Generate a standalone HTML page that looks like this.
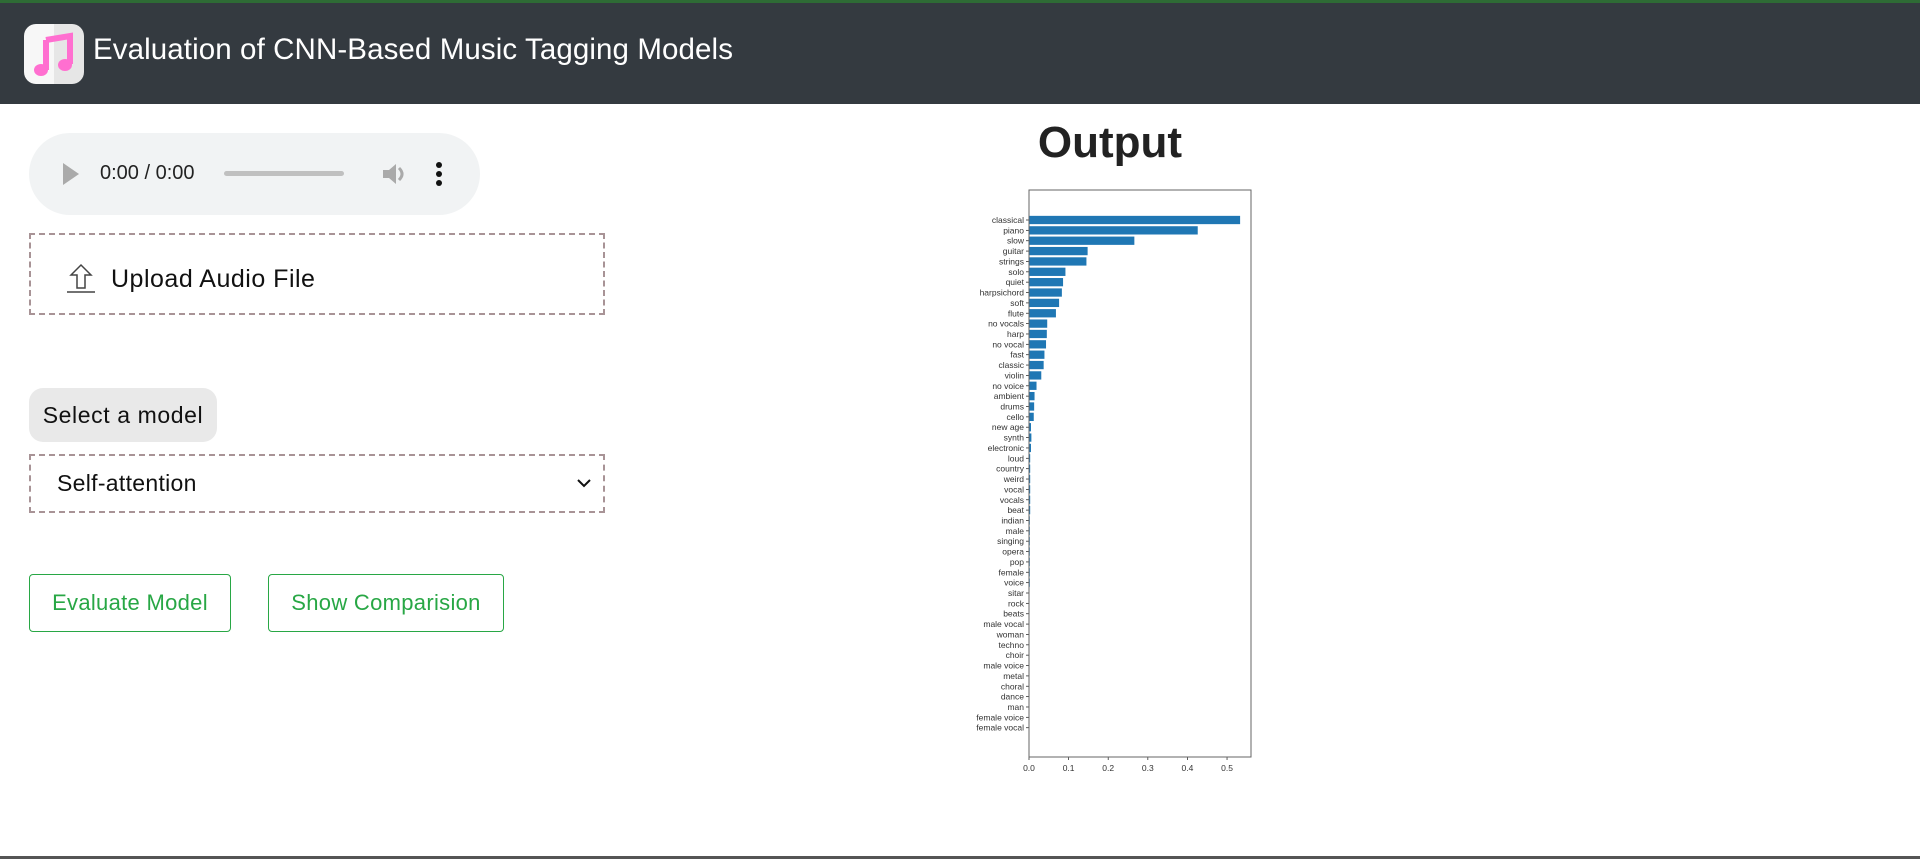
<!DOCTYPE html>
<html><head><meta charset="utf-8">
<style>
*{box-sizing:border-box;margin:0;padding:0}
body{width:1920px;height:859px;overflow:hidden;background:#fff;font-family:"Liberation Sans",sans-serif;position:relative}
.abs{position:absolute}
#topline{left:0;top:0;width:1920px;height:3px;background:#2e6b35}
#header{left:0;top:3px;width:1920px;height:101px;background:#343a40}
#icon{left:24px;top:24px;width:60px;height:60px;border-radius:12px;background:linear-gradient(90deg,#f7f7f7 50%,#e6e6e6 50%)}
#title{left:93px;top:33px;color:#fff;font-size:29.5px;white-space:nowrap;letter-spacing:0.1px}
#audio{left:29px;top:133px;width:451px;height:82px;border-radius:41px;background:#f1f3f4}
#upload{left:29px;top:233px;width:576px;height:82px;border:2px dashed #a89396}
#label{left:29px;top:388px;width:188px;height:54px;border-radius:14px;background:#e9e9e9;font-size:23px;line-height:54px;text-align:center;color:#111;letter-spacing:0.6px}
#select{left:29px;top:454px;width:576px;height:59px;border:2px dashed #a89396;font-size:23px;line-height:55px;padding-left:26px;color:#111;letter-spacing:0.3px}
.btn{top:574px;height:58px;border:1px solid #28a745;border-radius:4px;color:#28a745;font-size:22px;line-height:56px;text-align:center;background:#fff;letter-spacing:0.3px}
#out{left:1010px;top:118px;width:200px;text-align:center;font-size:44px;font-weight:bold;color:#222}
#bottomline{left:0;top:856px;width:1920px;height:3px;background:#555}
</style></head><body>
<div class="abs" id="topline"></div>
<div class="abs" id="header"></div>
<div class="abs" id="icon">
<svg width="60" height="60" viewBox="0 0 60 60"><path d="M22 16 L46 12 L46 40" stroke="#ff6fd0" stroke-width="6" fill="none"/><path d="M22 16 L22 46" stroke="#ff6fd0" stroke-width="6"/><ellipse cx="17" cy="46" rx="7" ry="6" fill="#ff6fd0"/><ellipse cx="41" cy="41" rx="7" ry="6" fill="#ff6fd0"/></svg></div>
<div class="abs" id="title">Evaluation of CNN-Based Music Tagging Models</div>

<div class="abs" id="audio">
<svg class="abs" style="left:34px;top:30px" width="16" height="22"><polygon points="0,0 16,11 0,22" fill="#aaa"/></svg>
<div class="abs" style="left:71px;top:29px;font-size:20px;color:#222">0:00 / 0:00</div>
<div class="abs" style="left:195px;top:38px;width:120px;height:5px;border-radius:3px;background:#c0c0c0"></div>
<svg class="abs" style="left:352px;top:29px" width="26" height="24"><polygon points="2,8 8,8 15,2 15,22 8,16 2,16" fill="#aaa"/><path d="M18 6 Q24 12 18 18" stroke="#aaa" stroke-width="3" fill="none"/></svg>
<svg class="abs" style="left:406px;top:29px" width="8" height="24"><circle cx="4" cy="3" r="3" fill="#111"/><circle cx="4" cy="12" r="3" fill="#111"/><circle cx="4" cy="21" r="3" fill="#111"/></svg>
</div>

<div class="abs" id="upload">
<svg class="abs" style="left:34px;top:28px" width="32" height="30"><path d="M6 12 L16 2 L26 12 L20 12 L20 25 L12 25 L12 12 Z" stroke="#444" stroke-width="1.5" fill="none"/><line x1="2" y1="29" x2="30" y2="29" stroke="#444" stroke-width="1.5"/></svg>
<div class="abs" style="left:80px;top:30px;font-size:25px;color:#111;letter-spacing:0.5px">Upload Audio File</div>
</div>

<div class="abs" id="label">Select a model</div>
<div class="abs" id="select">Self-attention
<svg class="abs" style="left:546px;top:23px" width="14" height="9"><path d="M1 1 L7 7 L13 1" stroke="#111" stroke-width="2" fill="none"/></svg></div>

<div class="abs btn" style="left:29px;width:202px">Evaluate Model</div>
<div class="abs btn" style="left:268px;width:236px">Show Comparision</div>

<div class="abs" id="out">Output</div>

<svg class="abs" style="left:0;top:0" width="1920" height="859" id="chart"></svg>
<div class="abs" id="bottomline"></div>

<script>
const categories=["classical","piano","slow","guitar","strings","solo","quiet","harpsichord","soft","flute","no vocals","harp","no vocal","fast","classic","violin","no voice","ambient","drums","cello","new age","synth","electronic","loud","country","weird","vocal","vocals","beat","indian","male","singing","opera","pop","female","voice","sitar","rock","beats","male vocal","woman","techno","choir","male voice","metal","choral","dance","man","female voice","female vocal"];
const values=[0.533,0.426,0.266,0.148,0.145,0.092,0.086,0.083,0.076,0.068,0.046,0.045,0.043,0.039,0.037,0.031,0.019,0.014,0.013,0.012,0.005,0.006,0.005,0.003,0.003,0.003,0.003,0.003,0.003,0.002,0.002,0.002,0.002,0.002,0.002,0.002,0.001,0.0008,0.0007,0.0006,0.0005,0.0005,0.0005,0.0004,0.0004,0.0004,0.0003,0.0003,0.0003,0.0003];
const xTicks=[0,0.1,0.2,0.3,0.4,0.5];
const xTickLabels=["0.0","0.1","0.2","0.3","0.4","0.5"];

const NS="http://www.w3.org/2000/svg";
const svg=document.getElementById('chart');
const L=1029,R=1251,T=190,B=757;
const xMax=0.5605;
const n=categories.length;
const step=(727.7-220)/(n-1);
function xs(v){return L+v/xMax*(R-L);}
function ys(i){return 220+i*step;}
function mk(tag,attrs){const e=document.createElementNS(NS,tag);for(const k in attrs)e.setAttribute(k,attrs[k]);svg.appendChild(e);return e;}
for(let i=0;i<n;i++){
  const h=step*0.8;
  const b=mk('rect',{x:xs(0),y:ys(i)-h/2,width:Math.max(0,xs(values[i])-xs(0)),height:h,fill:'#1f77b4'});
  
  
  const t=mk('line',{x1:L-3,x2:L,y1:ys(i),y2:ys(i),stroke:'#333','stroke-width':0.8});
  const tx=mk('text',{x:L-5,y:ys(i)+3,'text-anchor':'end','font-size':8.5,fill:'#333','font-family':'Liberation Sans, sans-serif'});
  tx.textContent=categories[i];
  
  
}
for(let j=0;j<xTicks.length;j++){
  const x=xs(xTicks[j]);
  mk('line',{x1:x,x2:x,y1:B,y2:B+3,stroke:'#333','stroke-width':0.8});
  const tx=mk('text',{x:x,y:B+14,'text-anchor':'middle','font-size':8.5,fill:'#333','font-family':'Liberation Sans, sans-serif'});
  tx.textContent=xTickLabels[j];
  
  
}
const fr=mk('rect',{x:L,y:T,width:R-L,height:B-T,fill:'none',stroke:'#666','stroke-width':1});


</script>
</body></html>
